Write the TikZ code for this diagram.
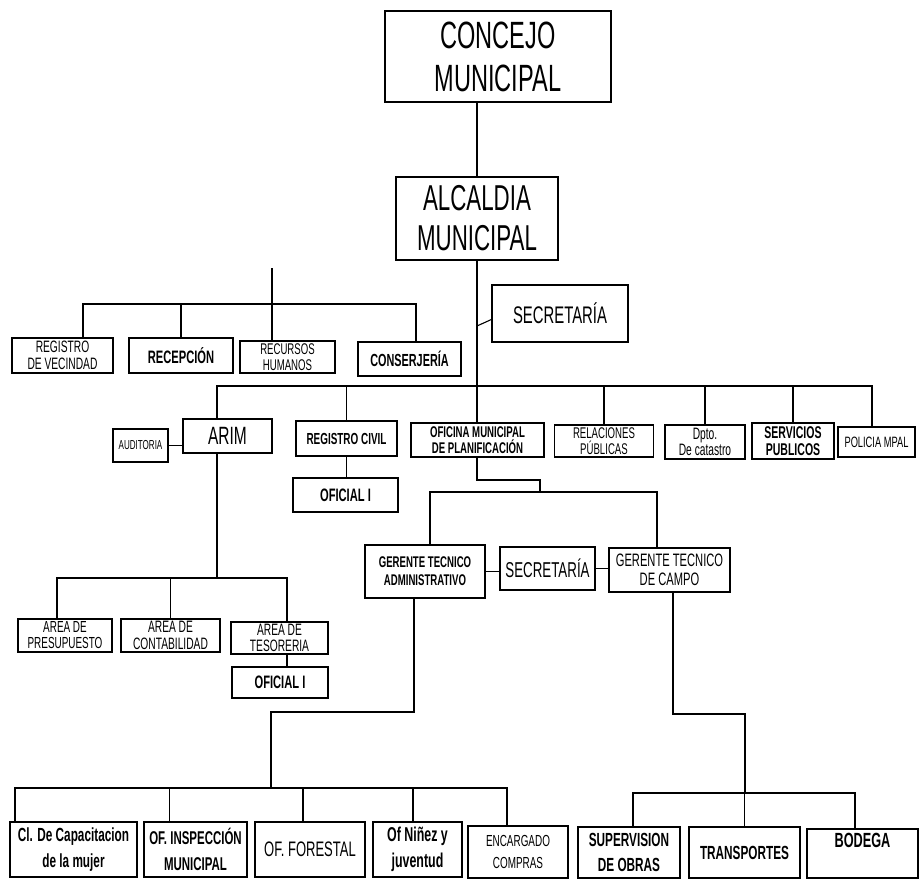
\documentclass[tikz,border=0pt]{standalone}
\usepackage{fontspec}
\setmainfont{Liberation Sans}[FakeStretch=0.62]
\newcommand\mysz[2]{\fontsize{#1}{#2}\selectfont}
\begin{document}
\begin{tikzpicture}[x=1pt,y=-1pt,
  box/.style={draw, line width=1.3pt, inner sep=0pt, align=center},
  link/.style={line width=1.1pt}]
\useasboundingbox[fill=white] (0,0) rectangle (919,880);

% top of the chart
\node[box,minimum width=226,minimum height=91,font=\mysz{38}{43}] (concejo) at (498,56.5) {CONCEJO\\MUNICIPAL};
\node[box,minimum width=162,minimum height=83,font=\mysz{36}{40}] (alcaldia) at (477,218.5) {ALCALDIA\\MUNICIPAL};
\node[box,minimum width=136,minimum height=57,font=\mysz{24}{26}] (sec1) at (560,313.5) {SECRETARÍA};

% first row of offices
\node[box,minimum width=101,minimum height=35,font=\mysz{16.5}{16.5}] (regvec) at (62.5,355.5) {REGISTRO\\DE VECINDAD};
\node[box,minimum width=104,minimum height=35,font=\bfseries\mysz{18}{17}] (recep) at (181,355.5) {RECEPCIÓN};
\node[box,minimum width=95,minimum height=32,font=\mysz{15.5}{15.5}] (rrhh) at (287.5,357) {RECURSOS\\HUMANOS};
\node[box,minimum width=103,minimum height=34,font=\bfseries\mysz{17.5}{17}] (conser) at (409.5,359) {CONSERJERÍA};

% second row of offices
\node[box,minimum width=55,minimum height=33,font=\mysz{13}{13}] (audit) at (140.5,445.5) {AUDITORIA};
\node[box,minimum width=89,minimum height=34,font=\mysz{25}{25}] (arim) at (227.5,436) {ARIM};
\node[box,minimum width=101,minimum height=35,font=\bfseries\mysz{16}{16}] (regciv) at (346.5,438.5) {REGISTRO CIVIL};
\node[box,minimum width=105,minimum height=34,font=\bfseries\mysz{18}{18}] (ofic1) at (345.5,495) {OFICIAL I};
\node[box,minimum width=133,minimum height=34,font=\bfseries\mysz{15.5}{15.5}] (omp) at (477.5,440) {OFICINA MUNICIPAL\\DE PLANIFICACIÓN};
\node[box,minimum width=99,minimum height=32,font=\mysz{15.5}{15.5}] (rp) at (604,441) {RELACIONES\\PÚBLICAS};
\node[box,minimum width=80,minimum height=34,font=\mysz{16.5}{16.5}] (catastro) at (705,442) {Dpto.\\De catastro};
\node[box,minimum width=82,minimum height=36,font=\bfseries\mysz{17}{17}] (servpub) at (793,441) {SERVICIOS\\PUBLICOS};
\node[box,minimum width=77,minimum height=30,font=\mysz{15}{15}] (policia) at (876.5,442) {POLICIA MPAL};

% ARIM areas
\node[box,minimum width=94,minimum height=33,font=\mysz{16}{16}] (presup) at (65,635.5) {AREA DE\\PRESUPUESTO};
\node[box,minimum width=99,minimum height=33,font=\mysz{16.5}{16.5}] (contab) at (170.5,635.5) {AREA DE\\CONTABILIDAD};
\node[box,minimum width=97,minimum height=32,font=\mysz{16.5}{16.5}] (tesor) at (279.5,638) {AREA DE\\TESORERIA};
\node[box,minimum width=96,minimum height=31,font=\bfseries\mysz{18}{18}] (ofic2) at (280,682.5) {OFICIAL I};

% technical management
\node[box,minimum width=120,minimum height=53,font=\bfseries\mysz{15.5}{18}] (gta) at (425,571.5) {GERENTE TECNICO\\ADMINISTRATIVO};
\node[box,minimum width=95,minimum height=43,font=\mysz{21.5}{22}] (sec2) at (547.5,568.5) {SECRETARÍA};
\node[box,minimum width=121,minimum height=44,font=\mysz{18}{18.5}] (gtc) at (669.5,570) {GERENTE TECNICO\\DE CAMPO};

% bottom row
\node[box,minimum width=127,minimum height=55,font=\bfseries\mysz{19}{26}] (capac) at (73.5,849.5) {Cl. De Capacitacion\\de la mujer};
\node[box,minimum width=103,minimum height=55,font=\bfseries\mysz{18.5}{26}] (inspec) at (195.5,849.5) {OF. INSPECCIÓN\\MUNICIPAL};
\node[box,minimum width=110,minimum height=55,font=\mysz{21}{21}] (forest) at (310,849.5) {OF. FORESTAL};
\node[box,minimum width=89,minimum height=55,font=\bfseries\mysz{20}{26}] (ninez) at (417.5,849.5) {Of Niñez y\\juventud};
\node[box,minimum width=100,minimum height=52,font=\mysz{16}{22}] (compras) at (518,852) {ENCARGADO\\COMPRAS};
\node[box,minimum width=102,minimum height=51,font=\bfseries\mysz{19}{25}] (superv) at (629,852.5) {SUPERVISION\\DE OBRAS};
\node[box,minimum width=111,minimum height=51,font=\bfseries\mysz{19}{19}] (transp) at (744.5,852.5) {TRANSPORTES};
\node[box,minimum width=111,minimum height=49,font=\bfseries\mysz{20.5}{26}] (bodega) at (862.5,853.5) {BODEGA\\\mbox{}};

% junction points of the connectors
\coordinate (lt) at (272,268);
\coordinate (b1L) at (83,304);
\coordinate (b1R) at (416,304);
\coordinate (sj) at (477,326);
\coordinate (b2L) at (217,386);
\coordinate (b2R) at (872,386);
\coordinate (b3L) at (57,578);
\coordinate (b3R) at (287,578);
\coordinate (pa) at (477,480);
\coordinate (pb) at (540,480);
\coordinate (b4L) at (430,492);
\coordinate (b4R) at (657,492);
\coordinate (ga) at (414,712);
\coordinate (gb) at (271,712);
\coordinate (b5L) at (15,788);
\coordinate (b5R) at (507,788);
\coordinate (gc) at (673,714);
\coordinate (gd) at (745,714);
\coordinate (b6L) at (633,793);
\coordinate (b6R) at (855,793);

% connectors
\draw[link] (alcaldia.north) -- (alcaldia.north |- concejo.south);
\draw[link] (alcaldia.south) -- (alcaldia.south |- omp.north);
\draw[link] (sj) -- (sec1.185);

\draw[link] (lt) -- (lt |- rrhh.north);
\draw[link] (b1L |- regvec.north) -- (b1L) -- (b1R) -- (b1R |- conser.north);
\draw[link] (recep.north) -- (recep.north |- b1L);

\draw[link] (b2L |- arim.north) -- (b2L) -- (b2R) -- (b2R |- policia.north);
\draw[link] (regciv.north) -- (regciv.north |- b2L);
\draw[link] (rp.north) -- (rp.north |- b2L);
\draw[link] (catastro.north) -- (catastro.north |- b2L);
\draw[link] (servpub.north) -- (servpub.north |- b2L);
\draw[link] (audit.east) -- (audit.east -| arim.west);
\draw[link] (regciv.south) -- (regciv.south |- ofic1.north);

\draw[link] (b2L |- arim.south) -- (b2L |- b3L);
\draw[link] (b3L |- presup.north) -- (b3L) -- (b3R) -- (b3R |- tesor.north);
\draw[link] (contab.north) -- (contab.north |- b3L);
\draw[link] (b3R |- tesor.south) -- (b3R |- ofic2.north);

\draw[link] (pa |- omp.south) -- (pa) -- (pb) -- (pb |- b4L);
\draw[link] (b4L |- gta.north) -- (b4L) -- (b4R) -- (b4R |- gtc.north);
\draw[link] (gta.east) -- (gta.east -| sec2.west);
\draw[link] (sec2.east) -- (sec2.east -| gtc.west);

\draw[link] (ga |- gta.south) -- (ga) -- (gb) -- (gb |- b5L);
\draw[link] (b5L |- capac.north) -- (b5L) -- (b5R) -- (b5R |- compras.north);
\draw[link] (b5L -| inspec.north) ++(-26,0) coordinate (d1) (d1) -- (d1 |- inspec.north);
\draw[link] (b5L -| forest.north) ++(-7,0) coordinate (d2) (d2) -- (d2 |- forest.north);
\draw[link] (b5L -| ninez.north) ++(-4.5,0) coordinate (d3) (d3) -- (d3 |- ninez.north);

\draw[link] (gc |- gtc.south) -- (gc) -- (gd) -- (gd |- b6L);
\draw[link] (b6L |- superv.north) -- (b6L) -- (b6R) -- (b6R |- bodega.north);
\draw[link] (transp.north) -- (transp.north |- b6L);
\end{tikzpicture}
\end{document}
